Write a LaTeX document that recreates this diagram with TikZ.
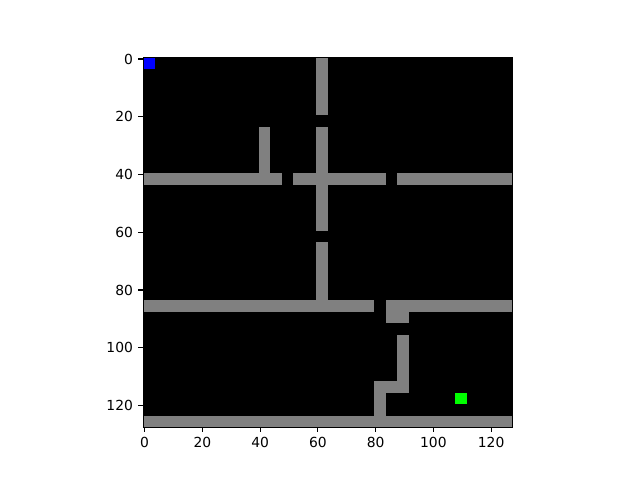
\documentclass[tikz,border=0pt]{standalone}
\usepackage{fontspec}
\setmainfont{DejaVu Sans}
\definecolor{wallgray}{RGB}{128,128,128}
\begin{document}
\begin{tikzpicture}[x=0.75pt, y=-0.75pt, wall/.style={fill=wallgray}, spine/.style={draw=black, line width=0.83pt}, tick/.style={draw=black, line width=0.83pt}, ticklabel/.style={font=\fontsize{10.4}{12}\selectfont, inner sep=0pt}]
			\useasboundingbox (0,0) rectangle (640,480);
			\coordinate (origin) at (143.2,57.6);
			\begin{scope}[shift={(origin)}, x=2.1656pt, y=-2.1656pt]
			\fill[black] (0,0) rectangle (128,128);
			\foreach \a/\b/\c/\d in {60/0/64/20, 60/24/64/60, 60/64/64/84, 40/24/44/40, 0/40/48/44, 52/40/84/44, 88/40/128/44, 0/84/80/88, 84/84/128/88, 84/88/92/92, 88/96/92/112, 80/112/92/116, 80/116/84/124, 0/124/128/128}
				\fill[wall] (\a,\b) rectangle (\c,\d);
			\fill[blue] (0,0) rectangle (4,4);
			\fill[green] (108,116) rectangle (112,120);
			\draw[spine] (0,0) rectangle (128,128);
			\foreach \v in {0,20,...,120} {
				\draw[tick] (\v+0.5,128) -- ++(0,1.683) node[ticklabel, below=3.64pt] (xt\v) {\v};
				\draw[tick] (0,\v+0.5) -- ++(-1.683,0) node[ticklabel, left=3.64pt] (yt\v) {\v};
			}
			\end{scope}
			\end{tikzpicture}
\end{document}
